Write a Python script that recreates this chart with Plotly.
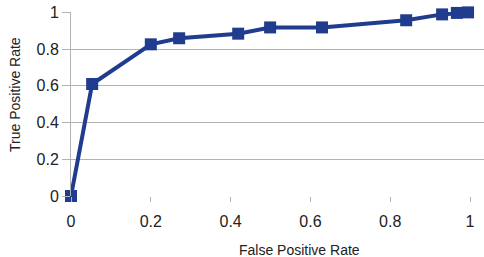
import plotly.graph_objects as go

fpr = [0.0, 0.053, 0.20, 0.271, 0.419, 0.499, 0.629, 0.84, 0.93, 0.967, 0.995]
tpr = [0.0, 0.61, 0.826, 0.859, 0.884, 0.918, 0.918, 0.957, 0.989, 0.997, 1.0]
tick_vals = [0, 0.2, 0.4, 0.6, 0.8, 1]
tick_text = ["0", "0.2", "0.4", "0.6", "0.8", "1"]

color = "#203c8e"
grid = "#b3b3b3"

fig = go.Figure()
fig.add_trace(go.Scatter(
    x=fpr, y=tpr, mode="lines+markers",
    line=dict(color=color, width=4),
    marker=dict(symbol="square", size=12, color=color),
    showlegend=False, cliponaxis=False,
))

fig.update_layout(
    width=484, height=257,
    margin=dict(l=71, r=0, t=12, b=61, autoexpand=False),
    paper_bgcolor="white", plot_bgcolor="white",
    font=dict(family="Liberation Sans", size=16, color="#222222"),
    xaxis=dict(range=[0, 1.035], tickvals=tick_vals, ticktext=tick_text,
               showgrid=False, zeroline=False, showline=False, automargin=False,
               ticks="outside", ticklen=5, tickcolor=grid, tickwidth=1,
               ticklabelstandoff=6),
    yaxis=dict(range=[0, 1.002], tickvals=tick_vals, ticktext=tick_text,
               showgrid=True, gridcolor=grid, gridwidth=1, zeroline=False,
               showline=True, linecolor=grid, linewidth=1, automargin=False,
               ticks="outside", ticklen=8, tickcolor=grid, tickwidth=1),
    annotations=[
        dict(text="False Positive Rate", xref="paper", yref="paper",
             x=(299 - 71) / 413, y=(196 - 250) / 184, xanchor="center", yanchor="middle",
             showarrow=False, font=dict(size=14, color="#222222")),
        dict(text="True Positive Rate", xref="paper", yref="paper", textangle=-90,
             x=(15 - 71) / 413, y=(196 - 95) / 184, xanchor="center", yanchor="middle",
             showarrow=False, font=dict(size=14, color="#222222")),
    ],
)

fig.write_html("out.html", config={"displayModeBar": False},
               post_script="document.body.style.margin='0';")
